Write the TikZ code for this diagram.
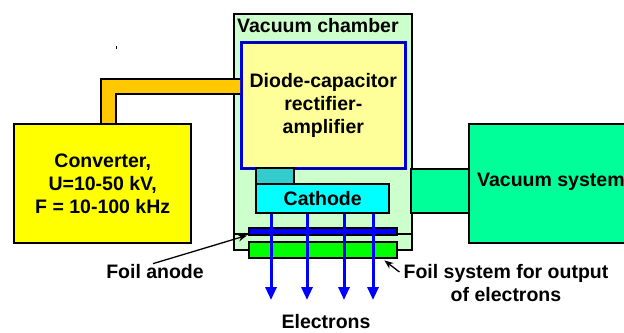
\documentclass[tikz,border=0pt]{standalone}
\usepackage{fontspec}
\setmainfont{Liberation Sans}
\usetikzlibrary{arrows.meta,calc}
\definecolor{chamberfill}{RGB}{204,255,204}
\definecolor{diodefill}{RGB}{255,255,153}
\definecolor{diodeline}{RGB}{0,0,230}
\definecolor{diodeinner}{RGB}{0,0,110}
\definecolor{tealbox}{RGB}{51,204,204}
\definecolor{cathfill}{RGB}{0,255,255}
\definecolor{anodefill}{RGB}{0,0,255}
\definecolor{foilfill}{RGB}{0,255,0}
\definecolor{vacfill}{RGB}{0,255,153}
\definecolor{convfill}{RGB}{255,255,0}
\definecolor{pipefill}{RGB}{255,200,0}
\definecolor{elecblue}{RGB}{0,0,255}
\tikzset{
  box/.style={draw=black, line width=2.4bp, inner sep=0pt, anchor=north west, align=center},
  lbl/.style={inner sep=0pt, align=center},
  elec/.style={draw=elecblue, line width=3bp, -{Triangle[length=13bp,width=11bp]}},
  ptr/.style={draw=black, line width=1.3bp, -{Stealth[length=9bp,width=7bp]}},
}
\begin{document}
\begin{tikzpicture}[x=1bp,y=-1bp, font=\fontsize{19.5bp}{23bp}\selectfont\bfseries]
\useasboundingbox (0,0) rectangle (624,332);
\clip (0,0) rectangle (624,332);

% tiny tick mark
\draw[line width=0.8bp] (116,46) -- (116,49);

% vacuum chamber
\node[box, fill=chamberfill, minimum width=178bp, minimum height=236bp] (chamber) at (233,13) {};
\node[lbl, anchor=west] (chlabel) at (237,26) {Vacuum chamber};
\draw[line width=1.8bp] ([yshift=-221bp]chamber.north west) -- ([yshift=-221bp]chamber.north east);

% vacuum system connector and box
\node[box, fill=vacfill, minimum width=58bp, minimum height=44bp] (vconn) at (410,168) {};
\node[box, fill=vacfill, minimum width=170bp, minimum height=119bp] (vsys) at (468,123) {};
\node[lbl, anchor=west] (vslabel) at (477,182) {Vacuum system};

% diode-capacitor box
\node[box, draw=diodeline, line width=2.6bp, fill=diodefill, minimum width=164bp, minimum height=126bp] (diode) at (240,41) {Diode-capacitor\\rectifier-\\amplifier};
\draw[diodeinner, line width=0.8bp] ([shift={(1.6bp,-1.6bp)}]diode.north west) rectangle ([shift={(-1.6bp,1.6bp)}]diode.south east);

% converter and pipe
\coordinate (pa) at (101,123);
\coordinate (pb) at (116,123);
\fill[pipefill] (pa) |- ([yshift=-38bp]diode.north west) -- ([yshift=-53bp]diode.north west) -| (pb) -- cycle;
\draw[line width=2.4bp] (pa) |- ([yshift=-38bp]diode.north west);
\draw[line width=2.4bp] ([yshift=-53bp]diode.north west) -| (pb);
\node[box, fill=convfill, minimum width=177bp, minimum height=119bp] (conv) at (13,123) {Converter,\\U=10-50 kV,\\F = 10-100 kHz};

% cathode assembly
\node[box, fill=tealbox, minimum width=38bp, minimum height=16bp] (teal) at (255,167) {};
\node[box, fill=cathfill, minimum width=133bp, minimum height=29bp] (cathode) at (255,183) {Cathode};

% anode and foil
\node[box, fill=anodefill, minimum width=148bp, minimum height=7bp] (anode) at (248,227) {};
\node[box, fill=foilfill, minimum width=148bp, minimum height=16bp] (foil) at (248,241) {};

% electrons
\coordinate (e1) at (271,300);
\coordinate (e2) at (307,300);
\coordinate (e3) at (344,300);
\coordinate (e4) at (373,300);
\foreach \e in {e1,e2,e3,e4} \draw[elec] (cathode.south -| \e) -- (\e);
\node[lbl] (electrons) at (326,322) {Electrons};

% labels with pointers
\node[lbl] (fa) at (155,272) {Foil anode};
\draw[ptr] ([xshift=-2bp,yshift=1bp]fa.north) -- ([xshift=-1bp,yshift=1bp]anode.south west);
\node[lbl] (fs) at (506,283) {Foil system for output\\of electrons};
\draw[ptr] ([shift={(-4bp,11bp)}]fs.west) -- ([xshift=-14bp,yshift=-1bp]foil.south east);
\end{tikzpicture}
\end{document}
